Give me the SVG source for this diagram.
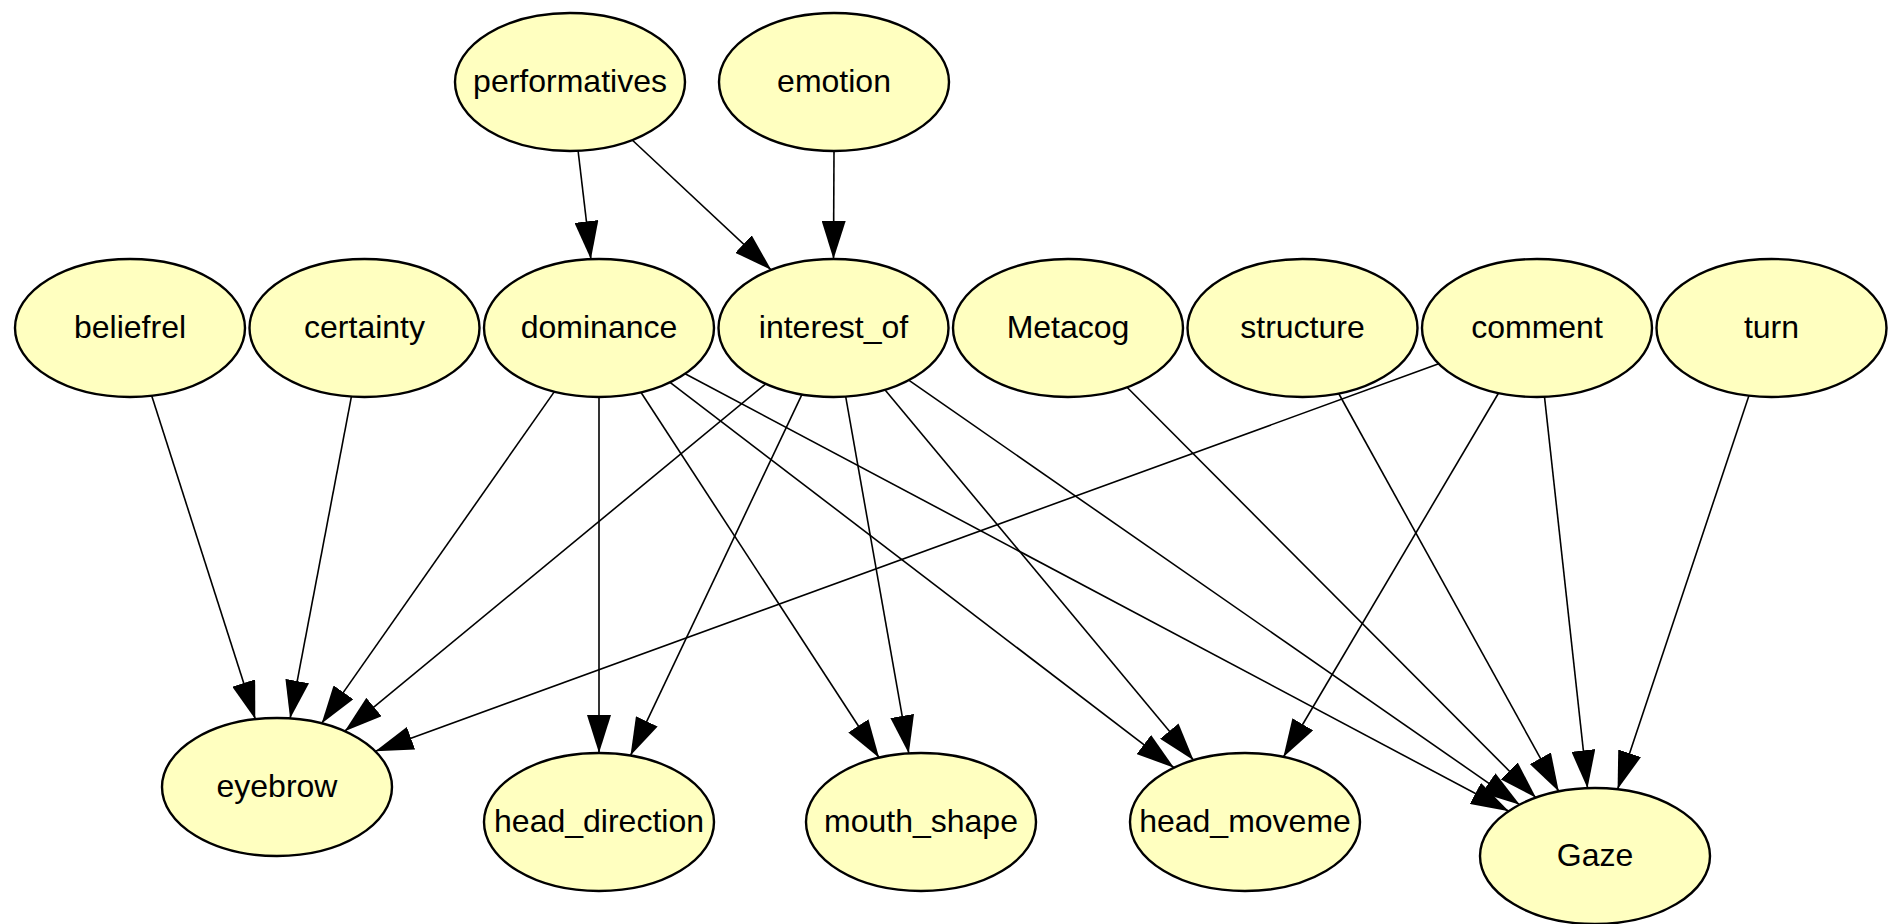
<svg xmlns="http://www.w3.org/2000/svg" width="1892" height="924" viewBox="0 0 1892 924">
<style>
.node ellipse{fill:#FFFFC0;stroke:#000;stroke-width:2.4}
.node text{font-family:"Liberation Sans",Arial,sans-serif;font-size:32px;fill:#000;text-anchor:middle}
.edges line{stroke:#000;stroke-width:1.6;fill:none;marker-end:url(#arr)}
</style>
<defs>
<marker id="arr" markerUnits="userSpaceOnUse" markerWidth="38" markerHeight="24" viewBox="0 0 38 24" refX="38" refY="12" orient="auto">
<path d="M0,0 L38,12 L0,24 Z" fill="#000"/>
</marker>
</defs>
<rect width="1892" height="924" fill="#fff"/>
<g class="edges" id="connectors">
<line x1="578.1" y1="150.8" x2="590.9" y2="259.2"/>
<line x1="632.2" y1="140.0" x2="771.3" y2="270.0"/>
<line x1="834" y1="151" x2="833.5" y2="259"/>
<line x1="151.7" y1="395.8" x2="255.3" y2="719.2"/>
<line x1="351.4" y1="396.6" x2="290.1" y2="718.4"/>
<line x1="554.4" y1="391.6" x2="321.6" y2="723.4"/>
<line x1="599" y1="397" x2="599" y2="753"/>
<line x1="640.9" y1="392.3" x2="879.1" y2="757.7"/>
<line x1="670" y1="382.3" x2="1174" y2="767.7"/>
<line x1="685.1" y1="373.7" x2="1508.9" y2="811.3"/>
<line x1="765.8" y1="383.8" x2="344.7" y2="731.2"/>
<line x1="802" y1="394.4" x2="630.5" y2="755.6"/>
<line x1="845.7" y1="396.6" x2="908.8" y2="753.4"/>
<line x1="884.9" y1="389.7" x2="1193.6" y2="760.3"/>
<line x1="908.7" y1="380.2" x2="1519.8" y2="804.8"/>
<line x1="1127" y1="387.2" x2="1536" y2="797.8"/>
<line x1="1338.7" y1="393.5" x2="1558.8" y2="791.5"/>
<line x1="1438.7" y1="363.8" x2="375.3" y2="751.2"/>
<line x1="1498.6" y1="393" x2="1283.4" y2="757"/>
<line x1="1544.5" y1="396.8" x2="1587.5" y2="788.2"/>
<line x1="1748.9" y1="395.7" x2="1617.6" y2="789.3"/>
</g>
<g class="node" id="performatives"><ellipse cx="570" cy="82" rx="115" ry="69"/><text x="570" y="92">performatives</text></g>
<g class="node" id="emotion"><ellipse cx="834" cy="82" rx="115" ry="69"/><text x="834" y="92">emotion</text></g>
<g class="node" id="beliefrel"><ellipse cx="130" cy="328" rx="115" ry="69"/><text x="130" y="338">beliefrel</text></g>
<g class="node" id="certainty"><ellipse cx="364.5" cy="328" rx="115" ry="69"/><text x="364.5" y="338">certainty</text></g>
<g class="node" id="dominance"><ellipse cx="599" cy="328" rx="115" ry="69"/><text x="599" y="338">dominance</text></g>
<g class="node" id="interest_of"><ellipse cx="833.5" cy="328" rx="115" ry="69"/><text x="833.5" y="338">interest_of</text></g>
<g class="node" id="Metacog"><ellipse cx="1068" cy="328" rx="115" ry="69"/><text x="1068" y="338">Metacog</text></g>
<g class="node" id="structure"><ellipse cx="1302.5" cy="328" rx="115" ry="69"/><text x="1302.5" y="338">structure</text></g>
<g class="node" id="comment"><ellipse cx="1537" cy="328" rx="115" ry="69"/><text x="1537" y="338">comment</text></g>
<g class="node" id="turn"><ellipse cx="1771.5" cy="328" rx="115" ry="69"/><text x="1771.5" y="338">turn</text></g>
<g class="node" id="eyebrow"><ellipse cx="277" cy="787" rx="115" ry="69"/><text x="277" y="797">eyebrow</text></g>
<g class="node" id="head_direction"><ellipse cx="599" cy="822" rx="115" ry="69"/><text x="599" y="832">head_direction</text></g>
<g class="node" id="mouth_shape"><ellipse cx="921" cy="822" rx="115" ry="69"/><text x="921" y="832">mouth_shape</text></g>
<g class="node" id="head_moveme"><ellipse cx="1245" cy="822" rx="115" ry="69"/><text x="1245" y="832">head_moveme</text></g>
<g class="node" id="Gaze"><ellipse cx="1595" cy="856" rx="115" ry="68"/><text x="1595" y="866">Gaze</text></g>
</svg>
